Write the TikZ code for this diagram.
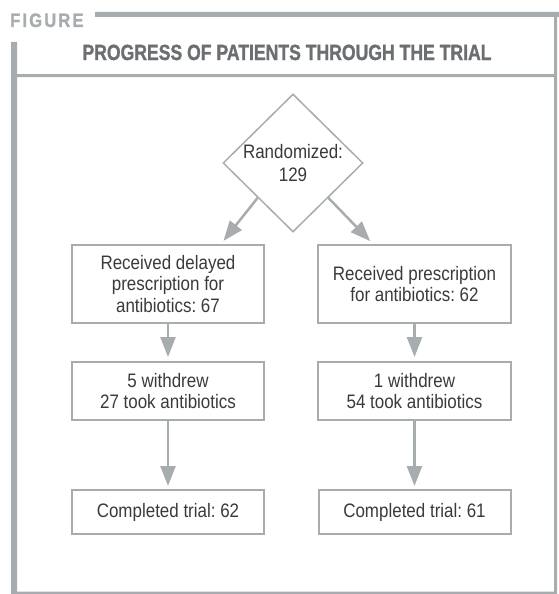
\documentclass[tikz,border=0pt]{standalone}
\usepackage{fontspec}
\setmainfont{Liberation Sans}[FakeStretch=0.87]
\newfontfamily\headfont{Liberation Sans Bold}[FakeStretch=0.8, FakeBold=1.2]
\newfontfamily\labelfont{Liberation Sans Bold}[FakeStretch=0.85, FakeBold=1.2, LetterSpace=11]
\usetikzlibrary{arrows.meta,shapes.geometric}
\definecolor{framegray}{HTML}{A7ACAE}
\definecolor{titlegray}{HTML}{6B6F71}
\definecolor{textgray}{HTML}{3A3A3A}
\newcommand*{\boxfont}{\fontsize{19.5}{21.7}\selectfont}
\frenchspacing

\begin{document}
\begin{tikzpicture}[x=1pt, y=-1pt]
      \useasboundingbox (0,0) rectangle (559,594);

      \fill[framegray]
        (95,12) rectangle (559,17)
        (11,42) rectangle (17,594)
        (554,17) rectangle (557,594)
        (17,74) rectangle (557,77)
        (17,591.5) rectangle (557,594);

      \node[anchor=base west, inner sep=0, text=framegray] (fig) at (10,27)
        {\labelfont\fontsize{19.5}{20}\selectfont FIGURE};
      \node[anchor=base, inner sep=0, text=titlegray] (title) at (287,60)
        {\headfont\fontsize{22}{22}\selectfont PROGRESS OF PATIENTS THROUGH THE TRIAL};

      {\tikzstyle{every node}=[draw=framegray, line width=2pt, text=textgray,
          align=center, font=\boxfont, inner sep=0]
        \node[diamond, line width=1.5pt, minimum width=140pt, minimum height=138pt,
          yshift=-3pt] (rand) at (293,160) {Randomized:\\[2pt]129};

        \node[minimum width=192pt, minimum height=78pt] (l1) at (168,284)
          {Received delayed\\prescription for\\antibiotics: 67};
        \node[minimum width=193pt, minimum height=78pt] (r1) at (414.5,284)
          {Received prescription\\for antibiotics: 62};

        \node[minimum width=192pt, minimum height=58pt] (l2) at (168,391)
          {5 withdrew\\27 took antibiotics};
        \node[minimum width=193pt, minimum height=58pt] (r2) at (414.5,391)
          {1 withdrew\\54 took antibiotics};

        \foreach \c/\x/\n in {l/168/62, r/414.5/61}
        {
          \node[minimum width=192pt, minimum height=44pt] (\c3) at (\x,512)
            {Completed trial: \n};
        }
      }

      \tikzstyle{flow}=[framegray, line width=2.5pt,
        -{Triangle[length=20pt, width=15pt]}]

      \draw[flow, shorten >=4pt] (rand.south west) -- ([xshift=53pt]l1.north);
      \draw[flow, shorten >=4pt] (rand.south east) -- ([xshift=-41.5pt]r1.north);

      \foreach \c in {l, r}
      {
        \draw[flow, shorten >=4pt] (\c1) -- (\c2);
        \draw[flow, shorten >=3pt] (\c2) -- (\c3);
      }
    \end{tikzpicture}
\end{document}
